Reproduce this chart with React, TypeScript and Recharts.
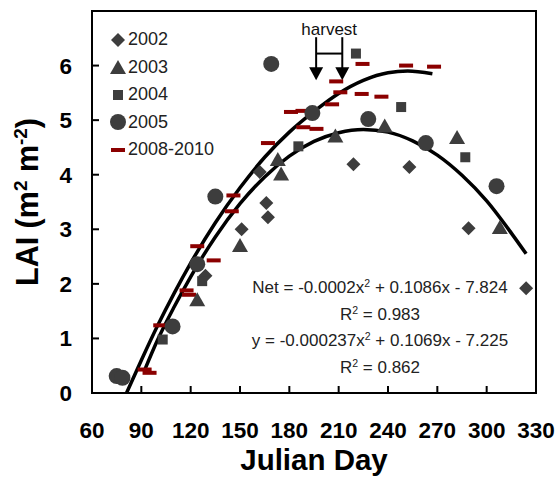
import React from 'react';
import {
  ComposedChart,
  Scatter,
  Line,
  XAxis,
  YAxis,
  ReferenceArea,
  ReferenceLine,
} from 'recharts';

const FONT = '"Liberation Sans", Arial, sans-serif';
const MARK = '#3d3d3d';
const RED = '#8b0000';

const xTicks = [60, 90, 120, 150, 180, 210, 240, 270, 300, 330];
const yTicks = [0, 1, 2, 3, 4, 5, 6];

const days2002 = [129, 151, 162, 166, 167, 219, 253, 289, 324];
const lai2002 = [2.15, 3.0, 4.05, 3.48, 3.22, 4.19, 4.14, 3.02, 1.92];

const days2003 = [124, 150, 173, 175, 208, 238, 282, 308];
const lai2003 = [1.72, 2.71, 4.29, 4.02, 4.72, 4.9, 4.69, 3.04];

const days2004 = [103, 127, 185.5, 220.5, 248, 287];
const lai2004 = [0.98, 2.05, 4.52, 6.22, 5.24, 4.32];

const days2005 = [75, 78.5, 109, 124, 135, 169, 194, 228, 263, 306];
const lai2005 = [0.31, 0.28, 1.22, 2.36, 3.6, 6.03, 5.13, 5.02, 4.58, 3.79];

const days0810 = [92, 95, 101.5, 117.5, 119, 124, 134, 145, 146, 167, 181, 188, 188.5, 196.5, 206, 211, 208.5, 224.5, 224, 236, 251, 268];
const lai0810 = [0.43, 0.37, 1.24, 1.88, 1.8, 2.69, 2.43, 3.33, 3.62, 4.58, 5.15, 5.17, 4.87, 4.84, 5.29, 5.51, 5.71, 6.03, 5.48, 5.43, 6.0, 5.98];

// fitted curves as traced on the figure
const netDays = [81, 90, 100, 110, 120, 135, 150, 165, 180, 195, 210, 225, 240, 252, 267];
const netLai = [0.0, 0.6, 1.24, 1.83, 2.38, 3.12, 3.76, 4.32, 4.78, 5.16, 5.49, 5.73, 5.87, 5.9, 5.85];

const fitDays = [92, 100, 110, 120, 135, 150, 165, 180, 195, 210, 225, 240, 255, 270, 285, 300, 315, 324];
const fitLai = [0.42, 0.98, 1.58, 2.13, 2.86, 3.47, 3.96, 4.34, 4.61, 4.77, 4.83, 4.78, 4.62, 4.36, 3.99, 3.52, 2.93, 2.55];

const harvestDays = [196.3, 212.2];

const toPoints = (xs: number[], ys: number[]) => xs.map((x, i) => ({ x, y: ys[i] }));

const Diamond = ({ cx, cy }: any) => (
  <polygon points={`${cx},${cy - 7} ${cx + 7},${cy} ${cx},${cy + 7} ${cx - 7},${cy}`} fill={MARK} />
);
const Triangle = ({ cx, cy }: any) => (
  <polygon points={`${cx},${cy - 7} ${cx + 8},${cy + 7} ${cx - 8},${cy + 7}`} fill={MARK} />
);
const Square = ({ cx, cy }: any) => <rect x={cx - 5} y={cy - 5} width={10} height={10} fill={MARK} />;
const Dot = ({ cx, cy }: any) => <circle cx={cx} cy={cy} r={8} fill={MARK} />;
const Dash = ({ cx, cy }: any) => <rect x={cx - 7} y={cy - 2} width={14} height={4} fill={RED} />;

const Arrow = (props: any) => {
  const { x1, y1, x2, y2 } = props;
  return (
    <g>
      <line x1={x1} y1={y1} x2={x2} y2={y2 - 10} stroke="#000" strokeWidth={2} />
      <polygon points={`${x2 - 7},${y2 - 13} ${x2 + 7},${y2 - 13} ${x2},${y2}`} fill="#000" />
    </g>
  );
};

const legendItems = [
  { name: '2002', Shape: Diamond },
  { name: '2003', Shape: Triangle },
  { name: '2004', Shape: Square },
  { name: '2005', Shape: Dot },
  { name: '2008-2010', Shape: Dash },
];

const sup = { fontSize: '0.62em', verticalAlign: '0.55em', lineHeight: 0 } as const;
const tickStyle = { fill: '#000', fontSize: 22.5, fontWeight: 'bold', fontFamily: FONT };

export default function App() {
  return (
    <div style={{ position: 'absolute', left: 0, top: 0, width: 557, height: 482, background: '#fff' }}>
      <ComposedChart width={557} height={482} margin={{ top: 11, right: 21, left: 0, bottom: 0 }}>
        <XAxis
          type="number"
          dataKey="x"
          domain={[60, 330]}
          ticks={xTicks}
          interval={0}
          height={89}
          tickSize={-7}
          tickMargin={36}
          axisLine={{ stroke: '#000', strokeWidth: 2 }}
          tickLine={{ stroke: '#000', strokeWidth: 2 }}
          tick={tickStyle}
          label={{
            value: 'Julian Day',
            position: 'insideBottom',
            offset: 12,
            style: { fill: '#000', fontSize: 29.5, fontWeight: 'bold', fontFamily: FONT },
          }}
        />
        <YAxis
          type="number"
          dataKey="y"
          domain={[0, 7]}
          ticks={yTicks}
          interval={0}
          width={92}
          tickSize={-7}
          tickMargin={27}
          axisLine={{ stroke: '#000', strokeWidth: 2 }}
          tickLine={{ stroke: '#000', strokeWidth: 2 }}
          tick={tickStyle}
        />
        <ReferenceArea x1={60} x2={330} y1={0} y2={7} fill="none" stroke="#000" strokeWidth={2} />
        <Scatter name="2008-2010" data={toPoints(days0810, lai0810)} shape={Dash} isAnimationActive={false} />
        <Scatter name="2002" data={toPoints(days2002, lai2002)} shape={Diamond} isAnimationActive={false} />
        <Scatter name="2003" data={toPoints(days2003, lai2003)} shape={Triangle} isAnimationActive={false} />
        <Scatter name="2004" data={toPoints(days2004, lai2004)} shape={Square} isAnimationActive={false} />
        <Scatter name="2005" data={toPoints(days2005, lai2005)} shape={Dot} isAnimationActive={false} />
        <Line
          data={toPoints(netDays, netLai)}
          dataKey="y"
          type="monotone"
          stroke="#000"
          strokeWidth={3.5}
          dot={false}
          isAnimationActive={false}
        />
        <Line
          data={toPoints(fitDays, fitLai)}
          dataKey="y"
          type="monotone"
          stroke="#000"
          strokeWidth={3.5}
          dot={false}
          isAnimationActive={false}
        />
        {harvestDays.map((d) => (
          <ReferenceLine
            key={d}
            segment={[{ x: d, y: 6.52 }, { x: d, y: 5.73 }]}
            shape={Arrow}
          />
        ))}
        <ReferenceLine
          segment={[{ x: harvestDays[0], y: 6.22 }, { x: harvestDays[1], y: 6.22 }]}
          stroke="#000"
          strokeWidth={2}
          label={{
            value: 'harvest',
            position: 'top',
            offset: 19,
            style: { fill: '#111', fontSize: 17, fontFamily: FONT },
          }}
        />
      </ComposedChart>

      <div
        style={{
          position: 'absolute',
          left: 27,
          top: 202,
          transform: 'translate(-50%, -50%) rotate(-90deg)',
          whiteSpace: 'nowrap',
          fontFamily: FONT,
          fontWeight: 'bold',
          fontSize: 30.5,
          color: '#000',
        }}
      >
        LAI (m<span style={sup}>2</span> m<span style={sup}>-2</span>)
      </div>

      <div style={{ position: 'absolute', left: 108, top: 26, fontFamily: FONT, fontSize: 18, color: '#222' }}>
        {legendItems.map(({ name, Shape }) => (
          <div key={name} style={{ display: 'flex', alignItems: 'center', height: 27.5 }}>
            <svg width={20} height={20}>
              <Shape cx={10} cy={10} />
            </svg>
            <span>{name}</span>
          </div>
        ))}
      </div>

      <div
        style={{
          position: 'absolute',
          left: 380,
          top: 275,
          transform: 'translateX(-50%)',
          textAlign: 'center',
          whiteSpace: 'nowrap',
          fontFamily: FONT,
          fontSize: 17,
          lineHeight: '26.7px',
          color: '#222',
        }}
      >
        <div>Net = -0.0002x<span style={sup}>2</span> + 0.1086x - 7.824</div>
        <div>R<span style={sup}>2</span> = 0.983</div>
        <div>y = -0.000237x<span style={sup}>2</span> + 0.1069x - 7.225</div>
        <div>R<span style={sup}>2</span> = 0.862</div>
      </div>
    </div>
  );
}
